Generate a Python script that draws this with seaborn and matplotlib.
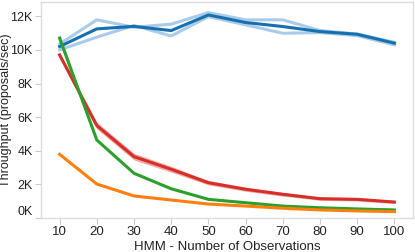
import matplotlib
matplotlib.use('Agg')
import matplotlib.pyplot as plt
import seaborn as sns
import numpy as np
import pandas as pd

# observations on x axis
obs = [10, 20, 30, 40, 50, 60, 70, 80, 90, 100]

# mean throughput (proposals/sec) per series
blue_mean = [10200, 11250, 11400, 11150, 12080, 11630, 11390, 11090, 10930, 10400]
red_mean = [9700, 5500, 3650, 2900, 2100, 1710, 1410, 1150, 1110, 950]
green_mean = [10700, 4640, 2660, 1740, 1110, 910, 710, 610, 540, 480]
orange_mean = [3790, 2020, 1310, 1070, 830, 710, 580, 480, 420, 380]

# band bounds
blue_lo = [10000, 10760, 11450, 10830, 11980, 11490, 10990, 11030, 10850, 10300]
blue_hi = [10350, 11790, 11350, 11530, 12220, 11790, 11790, 11150, 10950, 10450]
red_err = [150, 200, 200, 170, 130, 120, 110, 100, 100, 90]
green_err = [250, 80, 60, 50, 40, 40, 30, 30, 30, 30]

series = ['blue', 'red', 'green', 'orange']
palette = {'blue': '#1670b0', 'red': '#d62f28', 'green': '#2ca02c', 'orange': '#ff7f0e'}

df = pd.DataFrame({
    'obs': obs * 4,
    'value': blue_mean + red_mean + green_mean + orange_mean,
    'series': [s for s in series for _ in obs],
})

plt.rcParams['font.family'] = ['Liberation Sans', 'DejaVu Sans']
fig, ax = plt.subplots(figsize=(4.15, 2.52), dpi=100)
fig.subplots_adjust(left=41/415, right=413/415, top=1-2/252, bottom=1-218/252)

# bands first
ax.fill_between(obs, np.array(red_mean) - red_err, np.array(red_mean) + red_err,
                color='#f4a6a4', lw=0, zorder=1)
ax.fill_between(obs, np.array(green_mean) - green_err, np.array(green_mean) + green_err,
                color='#9ed69a', lw=0, zorder=1)
sns.lineplot(x=obs, y=blue_lo, color='#aacbe9', lw=2.2, ax=ax, zorder=2)
sns.lineplot(x=obs, y=blue_hi, color='#aacbe9', lw=2.2, ax=ax, zorder=2)

sns.lineplot(data=df, x='obs', y='value', hue='series', palette=palette,
             lw=2.2, legend=False, ax=ax, zorder=3)

ax.set_xlim(5, 105)
ax.set_ylim(0, 12850)
ax.set_xticks(obs)
yt = [0, 2000, 4000, 6000, 8000, 10000, 12000]
ax.set_yticks(yt)
ax.set_yticklabels([f'{v // 1000}K' for v in yt])
for lab in ax.get_yticklabels():
    if lab.get_text() == '0K':
        lab.set_va('bottom')

ax.set_xlabel('HMM - Number of Observations', fontsize=9.5, color='#222222', va='center')
ax.set_ylabel('Throughput (proposals/sec)', fontsize=9, color='#222222', va='center')
ax.xaxis.set_label_coords(0.5, (218 - 246.5) / 216)
ax.yaxis.set_label_coords((6 - 41) / 372, 0.5)
ax.tick_params(axis='both', labelsize=9.5, colors='#222222', length=4, width=0.8, pad=2)
ax.tick_params(axis='y', labelsize=9)
ax.tick_params(axis='both', color='#cccccc')
for side in ['left', 'bottom', 'top', 'right']:
    ax.spines[side].set_color('#dddddd')
    ax.spines[side].set_linewidth(1)
ax.grid(False)

plt.savefig('out.png', dpi=100)
